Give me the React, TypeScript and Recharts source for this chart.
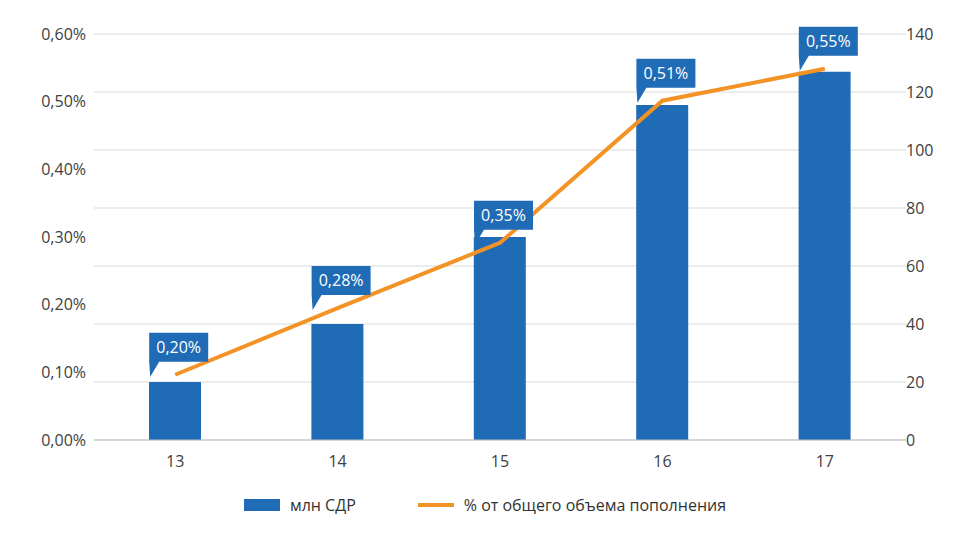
import { ComposedChart, Bar, Line, XAxis, YAxis, CartesianGrid, Legend } from 'recharts';

const categories = ['13', '14', '15', '16', '17'];
const barValues = [20, 40, 70, 115.5, 127];
const lineValues = [22.5, 45.5, 68, 117, 128];
const pctValues = [0.2, 0.28, 0.35, 0.51, 0.55];
const pctLabels = ['0,20%', '0,28%', '0,35%', '0,51%', '0,55%'];
const leftTicks = [0, 0.1, 0.2, 0.3, 0.4, 0.5, 0.6];
const rightTicks = [0, 20, 40, 60, 80, 100, 120, 140];

const BLUE = '#1f6bb5';
const ORANGE = '#f39325';
const FONT = '"Open Sans", "Noto Sans", sans-serif';

const data = categories.map((c, i) => ({
  cat: c,
  bar: barValues[i],
  line: lineValues[i],
  pct: pctValues[i],
}));

const Callout = (props: any) => {
  const { x, y, index } = props;
  const bx = x - 26;
  const by = y - 42;
  return (
    <g>
      <path
        d={`M${bx},${by} h59 v29 H${bx + 10} L${bx + 1},${y + 2} L${bx},${by + 29} Z`}
        fill={BLUE}
      />
      <text x={bx + 29.5} y={by + 20} textAnchor="middle" fill="#fff" fontSize={16} fontFamily={FONT}>
        {pctLabels[index]}
      </text>
    </g>
  );
};

const LegendContent = () => (
  <div style={{ display: 'flex', justifyContent: 'center', alignItems: 'center', fontFamily: FONT, fontSize: 16, color: '#333', paddingTop: 14 }}>
    <span style={{ display: 'inline-block', width: 36, height: 12, background: BLUE, marginRight: 10 }} />
    <span style={{ marginRight: 62 }}>млн СДР</span>
    <span style={{ display: 'inline-block', width: 36, height: 4, background: ORANGE, marginRight: 10 }} />
    <span>% от общего объема пополнения</span>
  </div>
);

export default function App() {
  return (
    <div style={{ position: 'absolute', left: 0, top: 0, background: '#fff' }}>
      <ComposedChart width={969} height={533} data={data} margin={{ top: 34, right: 13, left: 14, bottom: 0 }}>
        <CartesianGrid vertical={false} stroke="#d9d9d9" yAxisId="right" />
        <XAxis
          dataKey="cat"
          tickLine={false}
          axisLine={{ stroke: '#bfbfbf' }}
          tick={{ fill: '#404040', fontSize: 16, fontFamily: FONT }}
          tickMargin={10}
          height={40}
        />
        <YAxis
          yAxisId="left"
          domain={[0, 0.6]}
          ticks={leftTicks}
          tickFormatter={(v: number) => v.toFixed(2).replace('.', ',') + '%'}
          axisLine={false}
          tickLine={false}
          width={80}
          tick={{ fill: '#404040', fontSize: 16, fontFamily: FONT }}
        />
        <YAxis
          yAxisId="right"
          orientation="right"
          domain={[0, 140]}
          ticks={rightTicks}
          axisLine={false}
          tickLine={false}
          width={50}
          tick={{ fill: '#404040', fontSize: 16, fontFamily: FONT, textAnchor: 'start', dx: -8 }}
        />
        <Bar yAxisId="right" dataKey="bar" fill={BLUE} barSize={52} isAnimationActive={false} />
        <Line yAxisId="left" dataKey="pct" stroke="none" dot={false} activeDot={false} isAnimationActive={false} />
        <Line
          yAxisId="right"
          dataKey="line"
          stroke={ORANGE}
          strokeWidth={4}
          dot={false}
          isAnimationActive={false}
          label={<Callout />}
        />
        <Legend verticalAlign="bottom" height={53} content={<LegendContent />} />
      </ComposedChart>
    </div>
  );
}
